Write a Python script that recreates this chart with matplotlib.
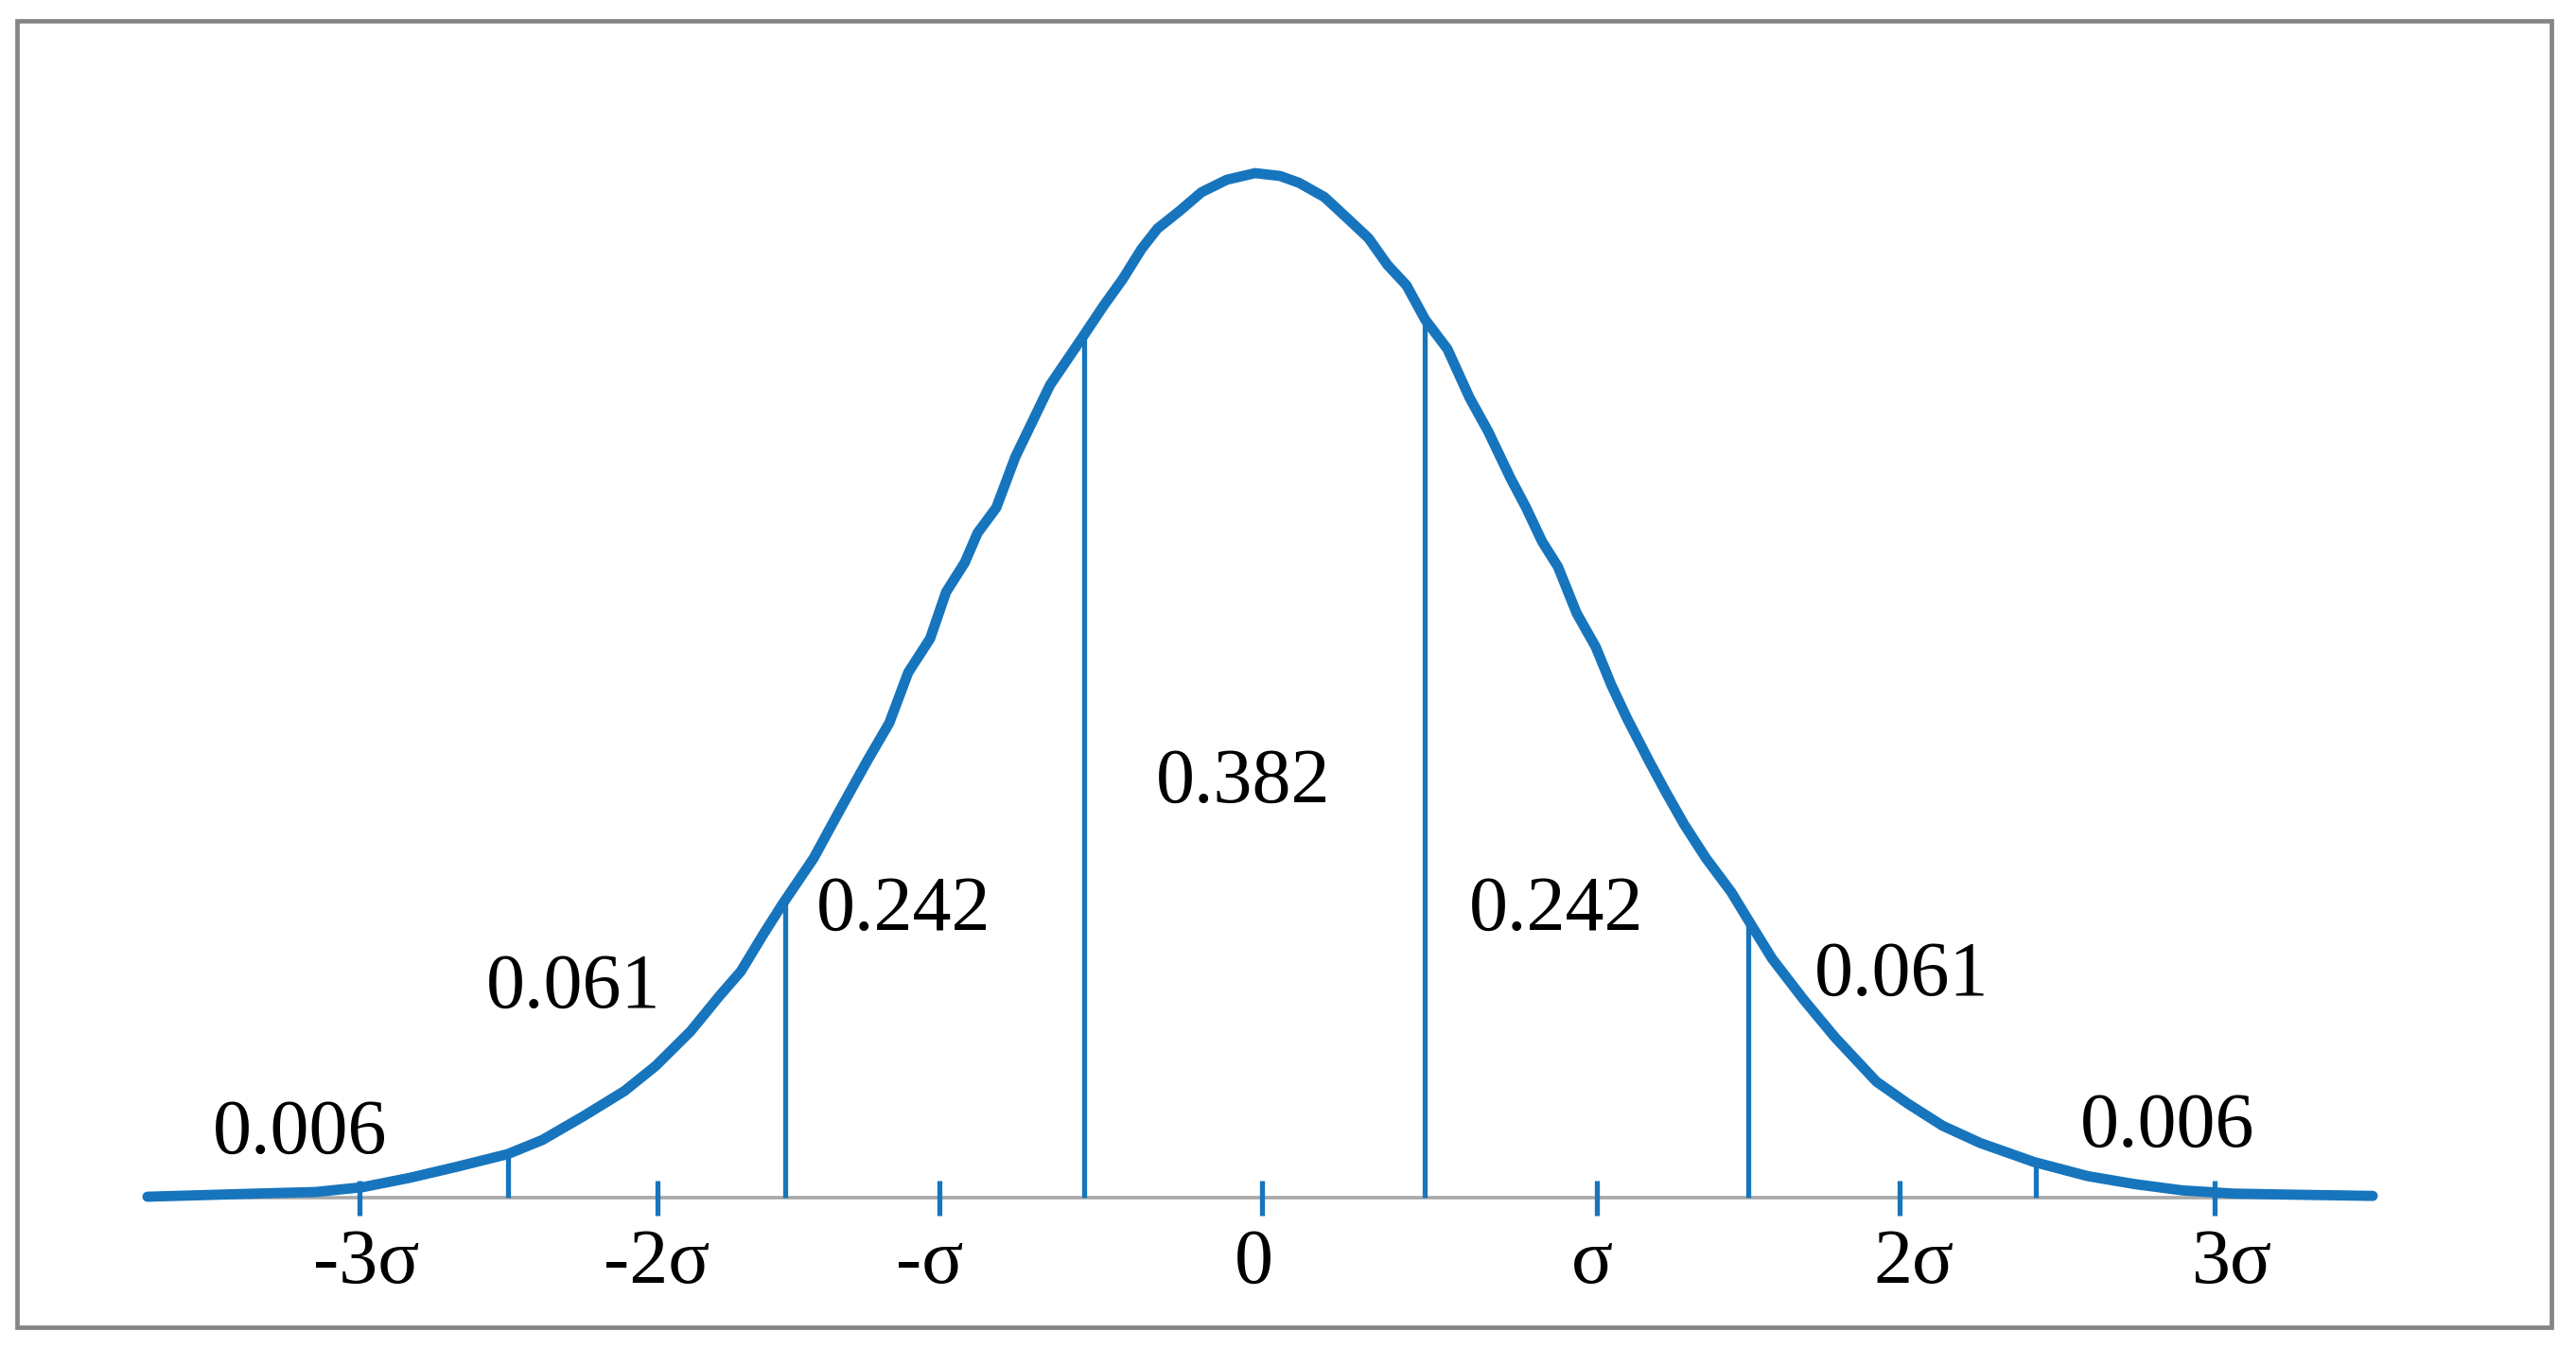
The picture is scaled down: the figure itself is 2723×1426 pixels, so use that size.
import matplotlib
matplotlib.use("Agg")
import matplotlib.pyplot as plt
from matplotlib.patches import Rectangle

# ---- data (x in sigma units, y relative to peak height) ----
curve_x = [-3.570, -3.184, -3.032, -2.881, -2.729, -2.578, -2.416, -2.305, -2.174,
           -2.042, -1.942, -1.830, -1.739, -1.669, -1.598, -1.537, -1.436, -1.355,
           -1.265, -1.194, -1.133, -1.063, -1.012, -0.952, -0.911, -0.851, -0.790,
           -0.679, -0.578, -0.507, -0.446, -0.386, -0.335, -0.265, -0.194, -0.113,
           -0.022, 0.058, 0.119, 0.200, 0.271, 0.341, 0.402, 0.463, 0.523, 0.594,
           0.665, 0.725, 0.796, 0.846, 0.897, 0.948, 1.008, 1.069, 1.119, 1.170,
           1.240, 1.291, 1.352, 1.422, 1.503, 1.564, 1.634, 1.735, 1.836, 1.968,
           2.069, 2.180, 2.301, 2.473, 2.645, 2.796, 2.948, 3.109, 3.280, 3.558]
curve_y = [0.0009, 0.0043, 0.0055, 0.0102, 0.0194, 0.0302, 0.0425, 0.0563, 0.0794,
           0.1041, 0.1286, 0.1625, 0.1964, 0.2210, 0.2567, 0.2860, 0.3314, 0.3767,
           0.4261, 0.4632, 0.5127, 0.5457, 0.5910, 0.6199, 0.6488, 0.6735, 0.7230,
           0.7931, 0.8384, 0.8707, 0.8966, 0.9259, 0.9458, 0.9628, 0.9813, 0.9935,
           1.0000, 0.9972, 0.9905, 0.9766, 0.9566, 0.9366, 0.9104, 0.8904, 0.8569,
           0.8283, 0.7807, 0.7476, 0.7023, 0.6735, 0.6405, 0.6158, 0.5704, 0.5375,
           0.5004, 0.4674, 0.4261, 0.3973, 0.3644, 0.3314, 0.2983, 0.2678, 0.2333,
           0.1933, 0.1563, 0.1133, 0.0917, 0.0702, 0.0533, 0.0348, 0.0210, 0.0132,
           0.0071, 0.0040, 0.0030, 0.0017]

boundary_x = [-2.415, -1.528, -0.569, 0.520, 1.559, 2.478]
boundary_top = [0.042, 0.290, 0.840, 0.858, 0.270, 0.035]

tick_pos = [-2.890, -1.935, -1.032, 0.0, 1.074, 2.043, 3.050]
tick_labels = ["-3σ", "-2σ", "-σ", "0", "σ", "2σ", "3σ"]
tick_label_x = [-2.870, -1.939, -1.064, -0.027, 1.058, 2.088, 3.109]

value_labels = ["0.006", "0.061", "0.242", "0.382", "0.242", "0.061", "0.006"]
value_x = [-3.082, -2.206, -1.148, -0.061, 0.942, 2.048, 2.900]
value_y = [0.0436, 0.1856, 0.2613, 0.386, 0.2613, 0.1976, 0.0503]

# ---- figure ----
W, H, DPI = 2723, 1426, 100
fig = plt.figure(figsize=(W / DPI, H / DPI), dpi=DPI)
fig.patch.set_facecolor("white")

# axes fill the figure; limits chosen so the drawing sits where it does in the picture
ax = fig.add_axes([0, 0, 1, 1])
ax.set_xlim(-1334 / 330, (W - 1334) / 330)
ax.set_ylim((1266 - H) / 1083, 1266 / 1083)
ax.axis("off")

blue = "#1775bd"
font = ["Liberation Serif", "DejaVu Serif"]

# frame around the picture
frame = Rectangle((18 / W, 1 - 1403 / H), (2697 - 18) / W, (1403 - 22) / H,
                  transform=fig.transFigure, fill=False, edgecolor="#858585",
                  linewidth=3.4, zorder=0)
fig.patches.append(frame)

# baseline axis
ax.plot([curve_x[0], curve_x[-1]], [0, 0], color="#a8a8a8", linewidth=2.6,
        solid_capstyle="butt", zorder=1)

# tick marks
for t in tick_pos:
    ax.plot([t, t], [-0.0175, 0.0166], color=blue, linewidth=3.8,
            solid_capstyle="butt", zorder=2)

# boundary lines
for bx, bt in zip(boundary_x, boundary_top):
    ax.plot([bx, bx], [0, bt], color=blue, linewidth=3.8,
            solid_capstyle="butt", zorder=2)

# curve
ax.plot(curve_x, curve_y, color=blue, linewidth=7.8, solid_joinstyle="round",
        solid_capstyle="round", zorder=3)

# tick labels
for x, lab in zip(tick_label_x, tick_labels):
    ax.text(x, -0.0831, lab, ha="center", va="baseline", fontsize=59,
            family=font, color="black")

# value labels
for x, y, lab in zip(value_x, value_y, value_labels):
    ax.text(x, y, lab, ha="center", va="baseline", fontsize=59,
            family=font, color="black")

fig.savefig("out.png", dpi=DPI, facecolor="white")
